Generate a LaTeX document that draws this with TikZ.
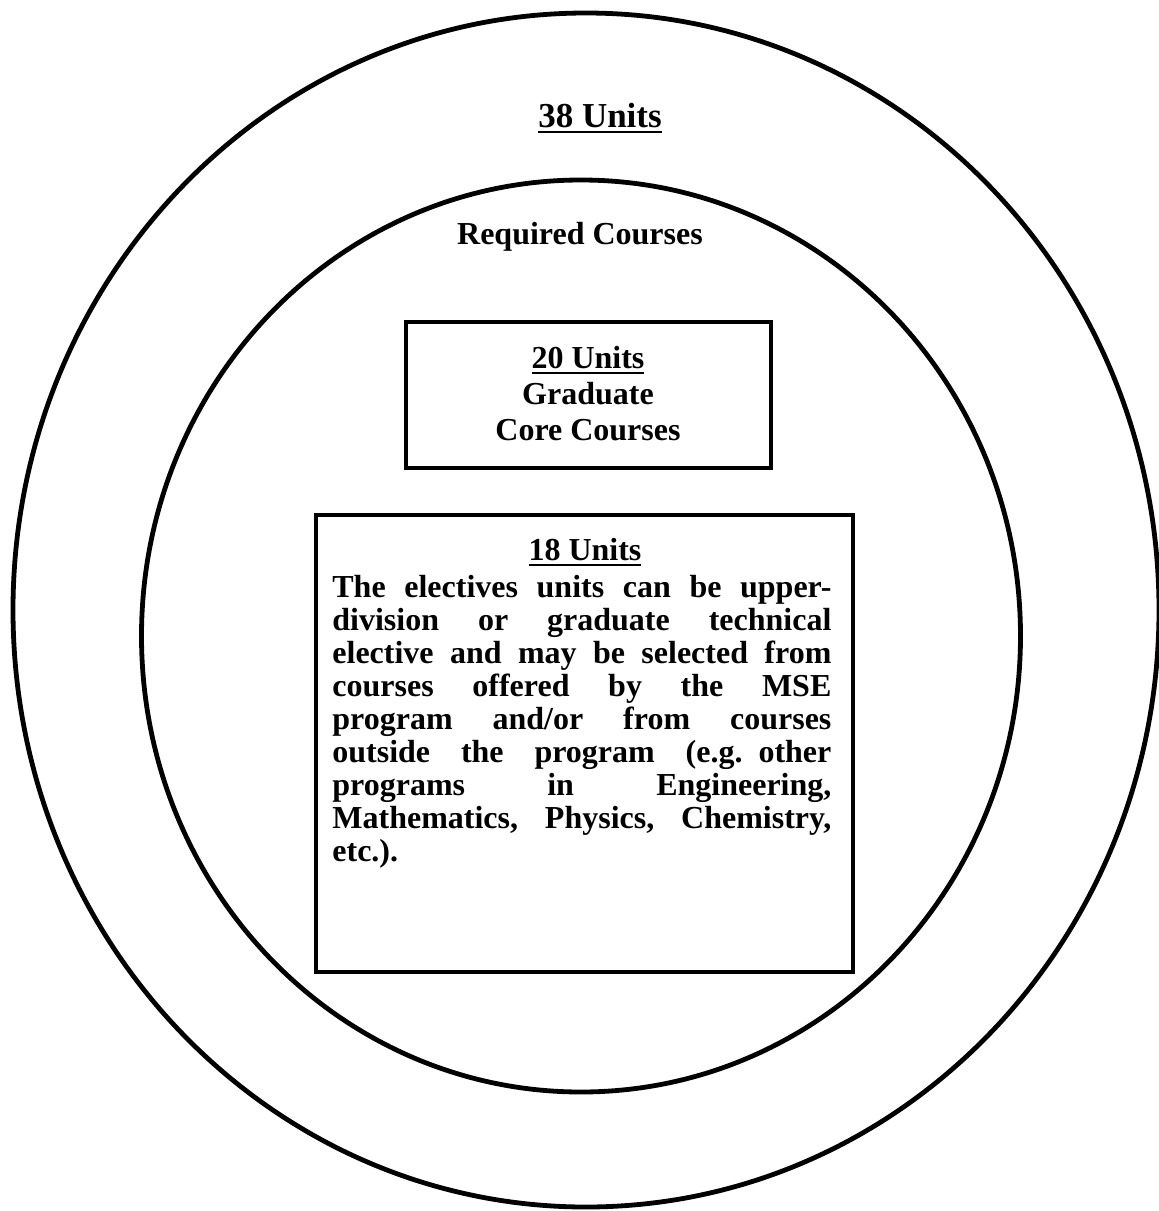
\documentclass[tikz,border=0pt]{standalone}
\usepackage{fontspec}
\setmainfont{Liberation Serif}
\usetikzlibrary{shapes.geometric}
\newsavebox\myulbox
\newcommand{\myul}[1]{\sbox\myulbox{#1}\rlap{\rule[-3.2pt]{\wd\myulbox}{1.4pt}}\usebox\myulbox}
\newcommand{\jline}[1]{\noindent\hbox to 249.5pt{\spaceskip=4pt plus 1fil\relax #1}\par}
\tikzset{
  ring/.style={draw, ellipse, line width=2.4pt, inner sep=0pt},
  unitbox/.style={draw, rectangle, line width=2.2pt, inner sep=0pt},
  lbl/.style={inner sep=0pt, anchor=base},
}
\begin{document}
\begin{tikzpicture}[x=0.5pt,y=-0.5pt, font=\fontsize{16}{16.5}\selectfont\bfseries]
\useasboundingbox (0,0) rectangle (1159,1211);
\node[ring, minimum width=573pt, minimum height=597pt] (outer) at (586,610) {};
\node[ring, minimum width=439.5pt, minimum height=456pt] (inner) at (581,636) {};
\node[unitbox, minimum width=182.5pt, minimum height=73pt] (core) at (588.5,395) {};
\node[unitbox, minimum width=268.5pt, minimum height=228.5pt] (elect) at (584.5,743.5) {};

\node[lbl, font=\fontsize{17.5}{18}\selectfont\bfseries] (t38) at (600,127) {\myul{38 Units}};
\node[lbl] (treq) at (580,244) {Required Courses};

\node[lbl] (t20) at (588,368) {\myul{20 Units}};
\node[lbl] (tgrad) at (588,404) {Graduate};
\node[lbl] (tcore) at (588,440) {Core Courses};

\node[lbl] (t18) at (585,560) {\myul{18 Units}};
\node[inner sep=0pt, anchor=base west, text width=249.5pt] (tpar) at (332,597) {%
\jline{The electives units can be upper-}%
\jline{division or graduate technical}%
\jline{elective and may be selected from}%
\jline{courses offered by the MSE}%
\jline{program and/or from courses}%
\jline{outside the program (e.g. other}%
\jline{programs in Engineering,}%
\jline{Mathematics, Physics, Chemistry,}%
\noindent etc.).};
\end{tikzpicture}
\end{document}
